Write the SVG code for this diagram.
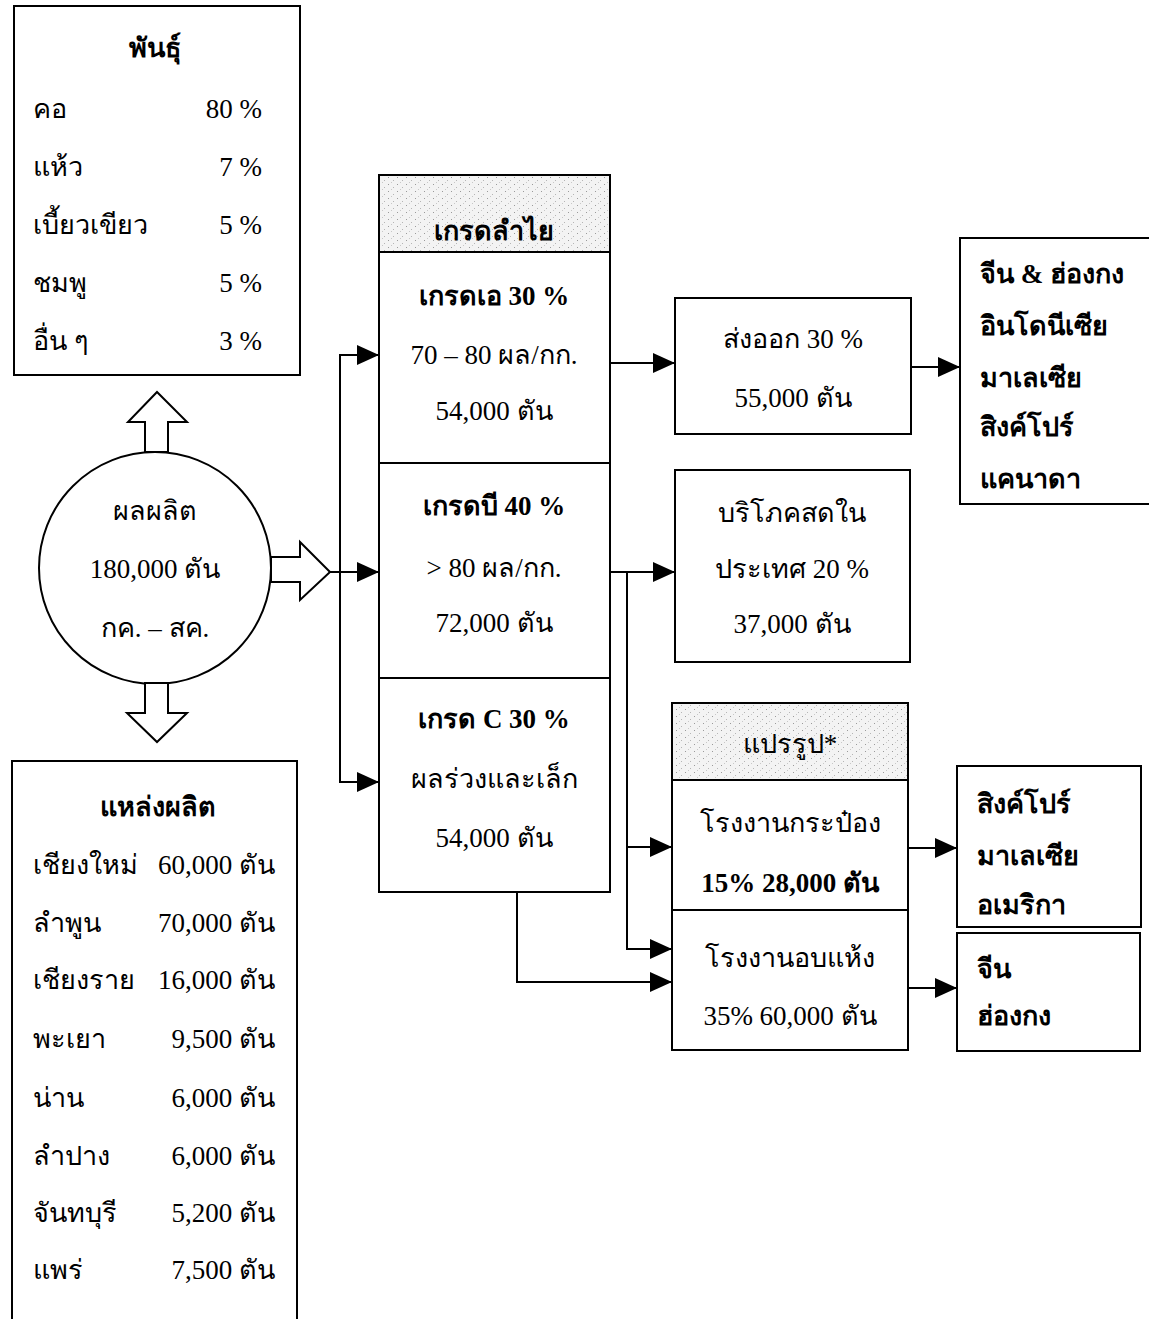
<svg xmlns="http://www.w3.org/2000/svg" width="1149" height="1319" viewBox="0 0 1149 1319">
<style>
text{font-family:"Liberation Serif","DejaVu Serif",serif;font-size:27px;fill:#000}
.b{font-weight:bold}
.m{text-anchor:middle}
.r{text-anchor:end}
.box{fill:#fff;stroke:#000;stroke-width:2}
.hdr{fill:url(#stip);stroke:#000;stroke-width:2}
.blk{fill:#fff;stroke:#000;stroke-width:2;stroke-linejoin:miter}
.ln{fill:none;stroke:#000;stroke-width:2}
.ar{fill:none;stroke:#000;stroke-width:2;marker-end:url(#ah)}
</style>
<defs>
<marker id="ah" markerUnits="userSpaceOnUse" markerWidth="22" markerHeight="20" refX="22" refY="10" orient="auto">
<path d="M0,0 L22,10 L0,20 z" fill="#000"/>
</marker>
<pattern id="stip" patternUnits="userSpaceOnUse" width="9" height="7">
<rect width="9" height="7" fill="#f3f3f3"/>
<rect x="1" y="2" width="1" height="1" fill="#9a9a9a"/>
<rect x="6" y="5" width="1" height="1" fill="#b5b5b5"/>
<rect x="4" y="0" width="1" height="1" fill="#c8c8c8"/>
</pattern>
</defs>
<rect width="1149" height="1319" fill="#fff"/>

<g id="varieties">
<rect class="box" x="14" y="6" width="286" height="369"/>
<text class="b m" x="155" y="57">พันธุ์</text>
<text x="33" y="118">คอ</text><text class="r" x="262" y="118">80 %</text>
<text x="33" y="176">แห้ว</text><text class="r" x="262" y="176">7 %</text>
<text x="33" y="234">เบี้ยวเขียว</text><text class="r" x="262" y="234">5 %</text>
<text x="33" y="292">ชมพู</text><text class="r" x="262" y="292">5 %</text>
<text x="33" y="350">อื่น ๆ</text><text class="r" x="262" y="350">3 %</text>
</g>

<g id="production">
<circle class="box" cx="155" cy="568" r="116"/>
<text class="m" x="155" y="520">ผลผลิต</text>
<text class="m" x="155" y="578">180,000  ตัน</text>
<text class="m" x="155" y="637">กค. – สค.</text>
</g>

<g id="block-arrows">
<polygon class="blk" points="145,452 145,422 128,422 157,392 187,422 168,422 168,452"/>
<polygon class="blk" points="145,683 145,713 127,713 157,742 187,713 168,713 168,683"/>
<polygon class="blk" points="271,557 300,557 300,542 330,572 300,600 300,582 271,582"/>
</g>

<g id="grades">
<rect class="box" x="379" y="175" width="231" height="717"/>
<rect class="hdr" x="379" y="175" width="231" height="77"/>
<line class="ln" x1="379" y1="463" x2="610" y2="463"/>
<line class="ln" x1="379" y1="678" x2="610" y2="678"/>
<text class="b m" x="494" y="240">เกรดลำไย</text>
<text class="b m" x="494" y="305">เกรดเอ 30 %</text>
<text class="m" x="494" y="364">70 – 80 ผล/กก.</text>
<text class="m" x="494" y="420">54,000  ตัน</text>
<text class="b m" x="494" y="515">เกรดบี 40 %</text>
<text class="m" x="494" y="577">&gt; 80 ผล/กก.</text>
<text class="m" x="494" y="632">72,000  ตัน</text>
<text class="b m" x="494" y="728">เกรด C 30 %</text>
<text class="m" x="494" y="788">ผลร่วงและเล็ก</text>
<text class="m" x="494" y="847">54,000  ตัน</text>
</g>

<g id="export">
<rect class="box" x="675" y="298" width="236" height="136"/>
<text class="m" x="793" y="348">ส่งออก 30 %</text>
<text class="m" x="793" y="407">55,000  ตัน</text>
</g>

<g id="domestic">
<rect class="box" x="675" y="470" width="235" height="192"/>
<text class="m" x="792" y="522">บริโภคสดใน</text>
<text class="m" x="792" y="578">ประเทศ 20 %</text>
<text class="m" x="792" y="633">37,000  ตัน</text>
</g>

<g id="export-countries">
<rect class="box" x="960" y="238" width="200" height="266"/>
<text class="b" x="980" y="283">จีน &amp; ฮ่องกง</text>
<text class="b" x="980" y="335">อินโดนีเซีย</text>
<text class="b" x="980" y="387">มาเลเซีย</text>
<text class="b" x="980" y="436">สิงค์โปร์</text>
<text class="b" x="980" y="488">แคนาดา</text>
</g>

<g id="processing">
<rect class="box" x="672" y="703" width="236" height="347"/>
<rect class="hdr" x="672" y="703" width="236" height="77"/>
<line class="ln" x1="672" y1="910" x2="908" y2="910"/>
<text class="m" x="790" y="753">แปรรูป*</text>
<text class="m" x="790" y="832">โรงงานกระป๋อง</text>
<text class="b m" x="790" y="892">15% 28,000 ตัน</text>
<text class="m" x="790" y="967">โรงงานอบแห้ง</text>
<text class="m" x="790" y="1025">35% 60,000 ตัน</text>
</g>

<g id="canned-countries">
<rect class="box" x="957" y="766" width="184" height="161"/>
<text class="b" x="977" y="813">สิงค์โปร์</text>
<text class="b" x="977" y="865">มาเลเซีย</text>
<text class="b" x="977" y="914">อเมริกา</text>
</g>

<g id="dried-countries">
<rect class="box" x="957" y="933" width="183" height="118"/>
<text class="b" x="977" y="978">จีน</text>
<text class="b" x="977" y="1025">ฮ่องกง</text>
</g>

<g id="sources">
<rect class="box" x="12" y="761" width="285" height="600"/>
<text class="b m" x="158" y="816">แหล่งผลิต</text>
<text x="33" y="874">เชียงใหม่</text><text class="r" x="275" y="874">60,000 ตัน</text>
<text x="33" y="932">ลำพูน</text><text class="r" x="275" y="932">70,000 ตัน</text>
<text x="33" y="989">เชียงราย</text><text class="r" x="275" y="989">16,000 ตัน</text>
<text x="33" y="1048">พะเยา</text><text class="r" x="275" y="1048">9,500 ตัน</text>
<text x="33" y="1107">น่าน</text><text class="r" x="275" y="1107">6,000 ตัน</text>
<text x="33" y="1165">ลำปาง</text><text class="r" x="275" y="1165">6,000 ตัน</text>
<text x="33" y="1222">จันทบุรี</text><text class="r" x="275" y="1222">5,200  ตัน</text>
<text x="33" y="1279">แพร่</text><text class="r" x="275" y="1279">7,500  ตัน</text>
</g>

<g id="connectors">
<line class="ln" x1="330" y1="572" x2="340" y2="572"/>
<line class="ln" x1="340" y1="354" x2="340" y2="783"/>
<line class="ar" x1="340" y1="355" x2="379" y2="355"/>
<line class="ar" x1="340" y1="572" x2="379" y2="572"/>
<line class="ar" x1="340" y1="782" x2="379" y2="782"/>
<line class="ar" x1="610" y1="363" x2="675" y2="363"/>
<line class="ar" x1="911" y1="367" x2="960" y2="367"/>
<line class="ar" x1="610" y1="572" x2="675" y2="572"/>
<line class="ln" x1="627" y1="572" x2="627" y2="950"/>
<line class="ar" x1="627" y1="847" x2="672" y2="847"/>
<line class="ar" x1="627" y1="949" x2="672" y2="949"/>
<polyline class="ar" points="517,892 517,982 672,982"/>
<line class="ar" x1="908" y1="848" x2="957" y2="848"/>
<line class="ar" x1="908" y1="988" x2="957" y2="988"/>
</g>
</svg>
